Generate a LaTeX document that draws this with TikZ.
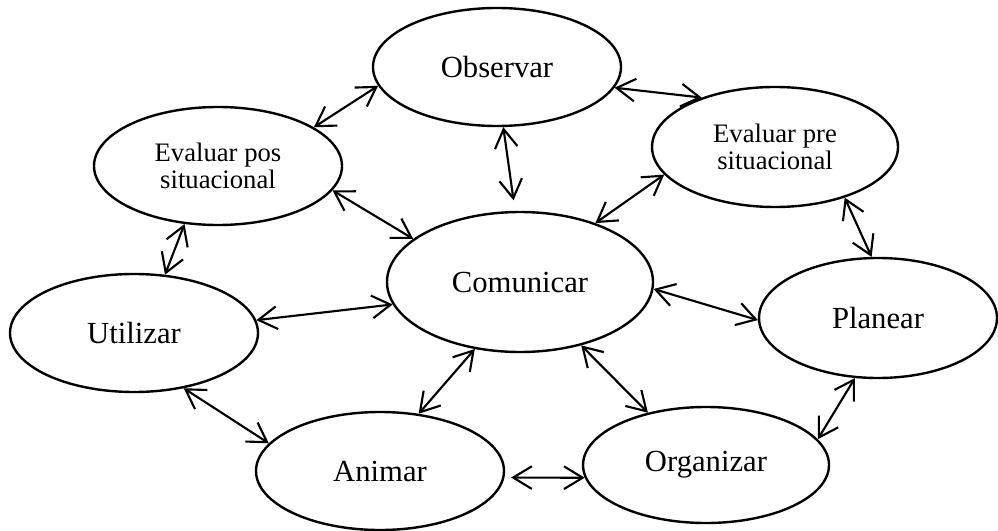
\documentclass[tikz,border=0pt]{standalone}
\usepackage{fontspec}
\setmainfont{Liberation Serif}
\usetikzlibrary{shapes.geometric,arrows.meta}
\begin{document}
\begin{tikzpicture}[
    x = 0.75pt, y = -0.75pt,
    elip/.style = {draw, ellipse, line width=1.8pt, inner sep=0pt,
                   minimum width=186pt, minimum height=88.5pt,
                   font=\fontsize{23}{27}\selectfont},
    evl/.style = {elip, align=center, font=\fontsize{20}{20}\selectfont},
    conn/.style = {line width=1.6pt,
                   {Straight Barb[length=14pt,width=17pt]}-{Straight Barb[length=14pt,width=17pt]}},
  ]
  \useasboundingbox (0,0) rectangle (998,531);
  \node[elip] (obs) at (497,67) {Observar};
  \node[evl] (pos) at (218,166) {Evaluar pos\\situacional};
  \node[evl, minimum width=184.5pt, minimum height=90pt] (pre) at (775,147) {Evaluar pre\\situacional};
  \node[elip, minimum width=199.5pt, minimum height=105pt] (com) at (520,282) {Comunicar};
  \node[elip] (uti) at (134,333) {Utilizar};
  \node[elip, minimum width=178.5pt, minimum height=90pt] (pla) at (878,318) {Planear};
  \node[elip] (ani) at (380,471) {Animar};
  \node[elip, minimum width=184.5pt, minimum height=87pt] (org) at (706,465) {Organizar};

  \draw[conn] (pos.22) -- (obs.189);
  \draw[conn] (obs.350) -- (pre.146);
  \draw[conn, shorten >=8pt] (obs.276) -- (com.94);
  \draw[conn] (pos.348) -- (com.158);
  \draw[conn] (pre.194) -- (com.38);
  \draw[conn] (pos.240) -- (uti.62);
  \draw[conn] (uti.6) -- (com.190);
  \draw[conn] (pre.324) -- (pla.96);
  \draw[conn] (com.357) -- (pla.181);
  \draw[conn] (com.314) -- (org.138);
  \draw[conn] (pla.249) -- (org.13);
  \draw[conn] (ani.56) -- (com.236);
  \draw[conn] (uti.312) -- (ani.166);
  \draw[conn, shorten <=5pt] (ani.357) -- (org.186);
\end{tikzpicture}
\end{document}
